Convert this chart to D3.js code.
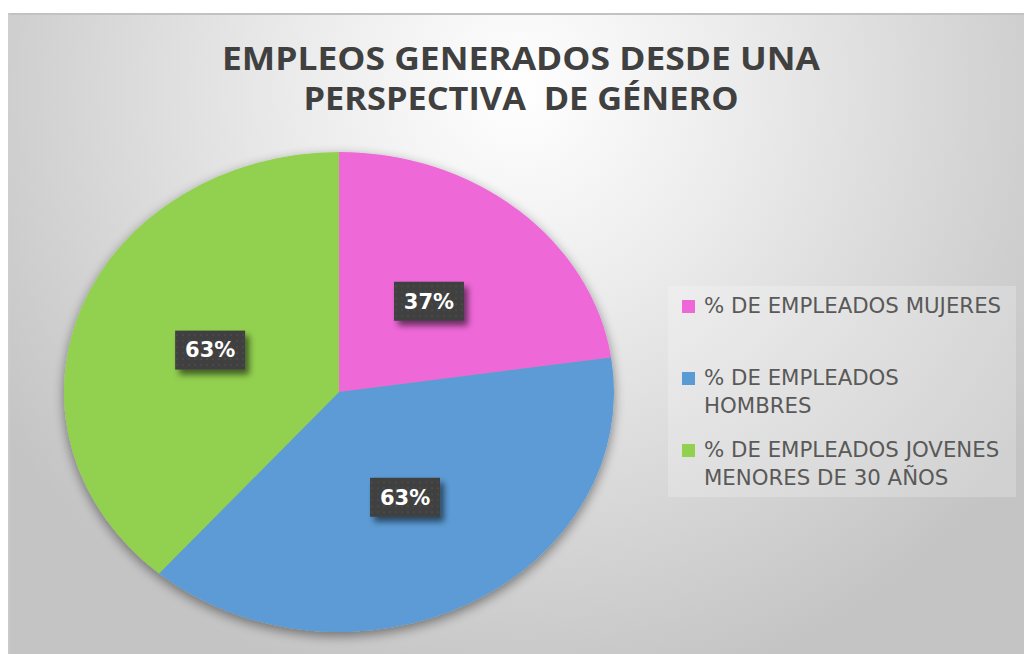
<!DOCTYPE html>
<html>
<head>
<meta charset="utf-8">
<script src="https://cdn.jsdelivr.net/npm/d3@7"></script>
<style>
  html, body { margin: 0; padding: 0; background: #fff; }
  svg { display: block; }
</style>
</head>
<body>
<svg width="1024" height="654"></svg>
<script>
const width = 1024, height = 654;

const categories = [
    "% DE EMPLEADOS MUJERES",
    "% DE EMPLEADOS HOMBRES",
    "% DE EMPLEADOS JOVENES MENORES DE 30 AÑOS"
];
const values = [37, 63, 63];
const labels = ["37%", "63%", "63%"];
const legendLines = [
    ["% DE EMPLEADOS MUJERES"],
    ["% DE EMPLEADOS", "HOMBRES"],
    ["% DE EMPLEADOS JOVENES", "MENORES DE 30 AÑOS"]
];
const colors = ["#ee67d8", "#5b9bd5", "#92d050"];
const titleLines = ["EMPLEOS GENERADOS DESDE UNA", "PERSPECTIVA  DE GÉNERO"];

const svg = d3.select("svg");
const defs = svg.append("defs");

// background gradient
const bg = defs.append("radialGradient")
    .attr("id", "bg")
    .attr("gradientUnits", "userSpaceOnUse")
    .attr("cx", 520).attr("cy", 90).attr("r", 620);
bg.append("stop").attr("offset", "0%").attr("stop-color", "#ffffff");
bg.append("stop").attr("offset", "35%").attr("stop-color", "#ececec");
bg.append("stop").attr("offset", "100%").attr("stop-color", "#c4c4c4");

// pie shadow
const sh = defs.append("filter").attr("id", "pieShadow")
    .attr("x", "-20%").attr("y", "-20%").attr("width", "140%").attr("height", "140%");
sh.append("feGaussianBlur").attr("in", "SourceAlpha").attr("stdDeviation", 6).attr("result", "b");
sh.append("feOffset").attr("in", "b").attr("dx", 0).attr("dy", 4).attr("result", "o");
sh.append("feComponentTransfer").attr("in", "o").attr("result", "o2")
    .append("feFuncA").attr("type", "linear").attr("slope", 0.45);
const m1 = sh.append("feMerge");
m1.append("feMergeNode").attr("in", "o2");
m1.append("feMergeNode").attr("in", "SourceGraphic");

// label shadow
const ls = defs.append("filter").attr("id", "lblShadow")
    .attr("x", "-30%").attr("y", "-30%").attr("width", "170%").attr("height", "170%");
ls.append("feGaussianBlur").attr("in", "SourceAlpha").attr("stdDeviation", 3).attr("result", "b");
ls.append("feOffset").attr("in", "b").attr("dx", 4).attr("dy", 5).attr("result", "o");
ls.append("feComponentTransfer").attr("in", "o").attr("result", "o2")
    .append("feFuncA").attr("type", "linear").attr("slope", 0.55);
const m2 = ls.append("feMerge");
m2.append("feMergeNode").attr("in", "o2");
m2.append("feMergeNode").attr("in", "SourceGraphic");

// dotted fill for labels
const pat = defs.append("pattern").attr("id", "dots")
    .attr("patternUnits", "userSpaceOnUse").attr("width", 6).attr("height", 6);
pat.append("rect").attr("width", 6).attr("height", 6).attr("fill", "#3f3f3f");
pat.append("rect").attr("x", 2).attr("y", 2).attr("width", 2).attr("height", 2).attr("fill", "#4a4a4a");

// chart area
svg.append("rect")
    .attr("x", 8).attr("y", 13)
    .attr("width", width - 8).attr("height", height - 13)
    .attr("fill", "url(#bg)");
svg.append("line")
    .attr("x1", 8).attr("x2", width)
    .attr("y1", 14).attr("y2", 14)
    .attr("stroke", "#c2c2c2").attr("stroke-width", 2);
svg.append("line")
    .attr("x1", 9).attr("x2", 9)
    .attr("y1", 13).attr("y2", height)
    .attr("stroke", "#cfcfcf").attr("stroke-width", 1);

// title
svg.append("g").selectAll("text")
    .data(titleLines)
    .join("text")
        .attr("x", 521)
        .attr("y", (d, i) => 70 + i * 40)
        .attr("text-anchor", "middle")
        .attr("font-family", "'Open Sans', sans-serif")
        .attr("font-weight", "bold")
        .attr("font-size", 32)
        .attr("fill", "#404040")
        .attr("textLength", (d, i) => i === 0 ? 598 : 435)
        .attr("lengthAdjust", "spacingAndGlyphs")
        .style("white-space", "pre")
        .text(d => d);

// pie (ellipse)
const cx = 339, cy = 392, rx = 275, ry = 240;
const pie = d3.pie().sort(null).value(d => d)(values);
const arc = d3.arc().innerRadius(0).outerRadius(ry);

const gpie = svg.append("g").attr("filter", "url(#pieShadow)");
gpie.append("g")
    .attr("transform", `translate(${cx},${cy}) scale(${rx / ry},1)`)
    .selectAll("path")
    .data(pie)
    .join("path")
        .attr("d", arc)
        .attr("fill", (d, i) => colors[i]);

// data labels
const glab = svg.append("g");
pie.forEach((d, i) => {
    const c = arc.centroid(d);
    const x = cx + c[0] * rx / ry, y = cy + c[1];
    const g = glab.append("g").attr("transform", `translate(${x},${y})`);
    g.append("rect")
        .attr("x", -35).attr("y", -19.5)
        .attr("width", 70).attr("height", 39)
        .attr("fill", "url(#dots)")
        .attr("filter", "url(#lblShadow)");
    g.append("text")
        .attr("text-anchor", "middle")
        .attr("dy", "0.35em")
        .attr("font-family", "'DejaVu Sans', sans-serif")
        .attr("font-weight", "bold")
        .attr("font-size", 21)
        .attr("fill", "#ffffff")
        .text(labels[i]);
});

// legend
const glegend = svg.append("g");
glegend.append("rect")
    .attr("x", 668).attr("y", 286)
    .attr("width", 348).attr("height", 211)
    .attr("fill", "#ffffff").attr("fill-opacity", 0.22);

const legendY = [313, 385, 457];
legendLines.forEach((lines, i) => {
    glegend.append("rect")
        .attr("x", 682).attr("y", legendY[i] - 13)
        .attr("width", 13).attr("height", 13)
        .attr("fill", colors[i]);
    glegend.append("text")
        .attr("x", 704)
        .attr("y", legendY[i])
        .attr("font-family", "'DejaVu Sans', sans-serif")
        .attr("font-size", 21.3)
        .attr("fill", "#595959")
        .selectAll("tspan")
        .data(lines)
        .join("tspan")
            .attr("x", 704)
            .attr("dy", (d, j) => j === 0 ? 0 : 28)
            .text(d => d);
});
</script>
</body>
</html>
